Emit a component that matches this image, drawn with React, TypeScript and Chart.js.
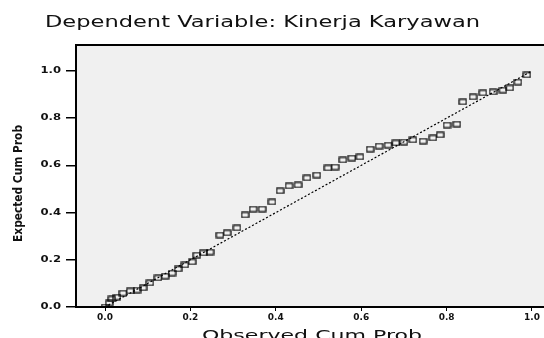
import React, { useEffect, useRef } from "react";
import { Chart, registerables } from "chart.js";

Chart.register(...registerables);

const observed = [0.000,0.010,0.016,0.028,0.042,0.059,0.075,0.089,0.105,0.124,0.141,0.157,0.171,0.187,0.204,0.215,0.230,0.246,0.269,0.286,0.309,0.328,0.347,0.368,0.391,0.410,0.431,0.452,0.473,0.496,0.522,0.539,0.557,0.578,0.597,0.621,0.642,0.663,0.681,0.700,0.721,0.745,0.768,0.785,0.801,0.824,0.838,0.862,0.885,0.909,0.932,0.948,0.967,0.988];
const expected = [0.000,0.017,0.034,0.042,0.059,0.068,0.072,0.081,0.102,0.123,0.131,0.144,0.161,0.178,0.191,0.220,0.229,0.233,0.305,0.314,0.335,0.390,0.415,0.415,0.445,0.492,0.513,0.517,0.547,0.559,0.589,0.593,0.623,0.631,0.636,0.669,0.682,0.686,0.695,0.699,0.708,0.703,0.716,0.729,0.771,0.775,0.869,0.890,0.907,0.911,0.919,0.928,0.953,0.983];
const refLineX = [0, 1];
const refLineY = [0, 1];
const xTicks = [0, 0.2, 0.4, 0.6, 0.8, 1.0];
const yTicks = [0, 0.2, 0.4, 0.6, 0.8, 1.0];
const titleText = "Dependent Variable: Kinerja Karyawan";
const xTitle = "Observed Cum Prob";
const yTitle = "Expected Cum Prob";

const FONT = "'DejaVu Sans', sans-serif";

function stretchText(ctx: CanvasRenderingContext2D, text: string, x: number, y: number, font: string, opts: { width?: number; sx?: number; align?: CanvasTextAlign; baseline?: CanvasTextBaseline; rotate?: number }) {
  ctx.save();
  ctx.font = font;
  ctx.fillStyle = "#111";
  ctx.textAlign = opts.align || "left";
  ctx.textBaseline = opts.baseline || "alphabetic";
  const w = ctx.measureText(text).width;
  const sx = opts.width ? opts.width / w : opts.sx || 1;
  ctx.translate(x, y);
  if (opts.rotate) ctx.rotate(opts.rotate);
  ctx.scale(sx, 1);
  ctx.fillText(text, 0, 0);
  ctx.restore();
}

function makeMarker() {
  const c = document.createElement("canvas");
  c.width = 9;
  c.height = 7;
  const g = c.getContext("2d")!;
  g.strokeStyle = "#000";
  g.lineWidth = 1.2;
  g.strokeRect(1, 1, 7, 5);
  return c;
}

const framePlugin = {
  id: "frame",
  beforeDraw(chart: any) {
    const { ctx, chartArea: a } = chart;
    ctx.save();
    ctx.fillStyle = "#ffffff";
    ctx.fillRect(0, 0, chart.width, chart.height);
    ctx.fillStyle = "#f0f0f0";
    ctx.fillRect(a.left, a.top, a.right - a.left, a.bottom - a.top);
    ctx.restore();
  },
  afterDraw(chart: any) {
    const { ctx, chartArea: a } = chart;
    ctx.save();
    ctx.strokeStyle = "#000";
    ctx.lineWidth = 2;
    ctx.beginPath();
    ctx.moveTo(a.left - 1, a.top);
    ctx.lineTo(a.right, a.top);
    ctx.stroke();
    ctx.restore();
    const xs = chart.scales.x;
    const ys = chart.scales.y;
    ys.ticks.forEach((t: any) => {
      const py = ys.getPixelForValue(t.value);
      stretchText(ctx, Number(t.value).toFixed(1), 61, py, `bold 8px ${FONT}`, { sx: 1.45, align: "right", baseline: "middle" });
    });
    xs.ticks.forEach((t: any) => {
      const px = xs.getPixelForValue(t.value);
      stretchText(ctx, Number(t.value).toFixed(1), px, 318, `bold 8px ${FONT}`, { sx: 1.12, align: "center", baseline: "middle" });
    });
    stretchText(ctx, titleText, 45, 27, `15px ${FONT}`, { width: 435 });
    stretchText(ctx, xTitle, 202, 340, `14px ${FONT}`, { width: 220 });
    stretchText(ctx, yTitle, 22, 183.5, `bold 12px ${FONT}`, { width: 117, align: "center", rotate: -Math.PI / 2 });
  },
};

export default function App() {
  const ref = useRef<HTMLCanvasElement>(null);
  useEffect(() => {
    if (!ref.current) return;
    const marker = makeMarker();
    const chart = new Chart(ref.current, {
      type: "scatter",
      data: {
        datasets: [
          {
            type: "line",
            data: refLineX.map((x, i) => ({ x, y: refLineY[i] })),
            borderColor: "#000",
            borderWidth: 1.2,
            borderDash: [2, 2],
            pointRadius: 0,
            fill: false,
          } as any,
          {
            data: observed.map((x, i) => ({ x, y: expected[i] })),
            pointStyle: marker as any,
            pointRadius: 4,
            borderColor: "#000",
            backgroundColor: "rgba(0,0,0,0)",
          },
        ],
      },
      options: {
        responsive: false,
        devicePixelRatio: 1,
        animation: false,
        layout: { padding: { top: 45, right: 5, left: 0, bottom: 0 } },
        plugins: { legend: { display: false }, tooltip: { enabled: false }, title: { display: false } },
        scales: {
          x: {
            type: "linear",
            min: -0.068,
            max: 1.068,
            afterBuildTicks: (s: any) => { s.ticks = xTicks.map((v) => ({ value: v })); },
            afterFit: (s: any) => { s.height = 31; },
            ticks: { display: false },
            grid: { drawOnChartArea: false, drawTicks: true, tickLength: 4, color: "#000", lineWidth: 1 },
            border: { display: true, color: "#000", width: 2 },
          },
          y: {
            type: "linear",
            min: 0,
            max: 1.11,
            afterBuildTicks: (s: any) => { s.ticks = yTicks.map((v) => ({ value: v })); },
            afterFit: (s: any) => { s.width = 76; },
            ticks: { display: false },
            grid: { drawOnChartArea: false, drawTicks: true, tickLength: 10, color: "#000", lineWidth: 1.5 },
            border: { display: true, color: "#000", width: 2 },
          },
        },
      },
      plugins: [framePlugin],
    });
    return () => chart.destroy();
  }, []);
  return (
    <div style={{ position: "fixed", left: 0, top: 0, width: 544, height: 338, overflow: "hidden", background: "#fff" }}>
      <canvas ref={ref} width={566} height={338} style={{ display: "block", width: 566, height: 338 }} />
    </div>
  );
}
